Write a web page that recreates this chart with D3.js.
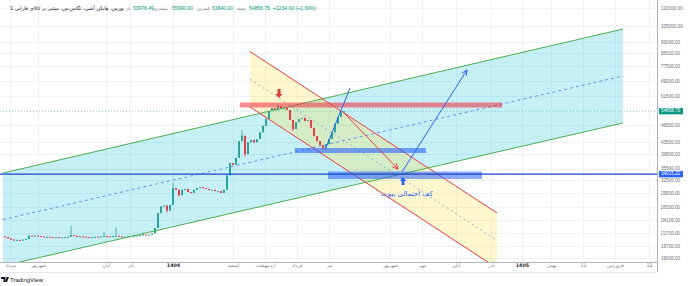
<!DOCTYPE html>
<html>
<head>
<meta charset="utf-8">
<script src="https://cdn.jsdelivr.net/npm/d3@7"></script>
<style>
  body { margin: 0; background: #fff; }
  svg { display: block; font-family: "Liberation Sans", "DejaVu Sans", sans-serif; }
</style>
</head>
<body>
<div id="chart"></div>
<script>
// candle closes, one per bar (bar index = position on the time axis)
const closes = [
  21100, 20900, 20700, 20600, 20650, 20600, 20700, 20800, 21300, 21200,
  21350, 21250, 21200, 21100, 21150, 21100, 21050, 21100, 21000, 21050,
  21100, 21150, 21400, 21300, 21100, 21200, 21150, 21100, 21050, 21100,
  21150, 21100, 21200, 21250, 21200, 21150, 21250, 21300, 21200, 21100,
  21150, 21200, 21250, 21300, 21350, 21400, 21500, 21450, 21500, 21700,
  22600, 25300, 26600, 26800, 25800, 26900, 30600, 30200, 29000, 30200,
  30400, 29700, 29500, 30200, 30600, 30800, 30600, 30400, 30200, 30200,
  29900, 29900, 29500, 30200, 33700, 37000, 36500, 38500, 43700, 45500,
  39600, 43300, 44100, 43300, 44400, 46700, 49100, 51700, 54900, 56200,
  55300, 57000, 55700, 56200, 55300, 51300, 47900, 50500, 51700, 52100,
  50900, 51300, 48300, 45400, 43700, 42400, 41500, 42700, 44400, 46700,
  49800, 52500, 54300, 54858.75
];
const firstOpen = 21200;
// [bar, high] and [bar, low] for the longer wicks
const wickHighs = [[8, 21500], [22, 23000], [33, 21900], [37, 22700], [46, 21800], [56, 31900], [79, 47600], [91, 57900]];
const wickLows = [[54, 25400], [58, 28700], [80, 38800], [96, 47200], [106, 40900]];

const priceTicks = [120000, 105000, 93000, 85000, 77500, 69000, 61500, 49500, 43500, 39500, 35500, 32500, 29500, 26500, 24100, 21700, 19700, 18000];
const timeTicks = [1.7, 11, 33.7, 41.7, 56, 76, 86.7, 97.3, 108, 128.3, 139, 150.3, 162, 172.3, 182, 192.7, 203.3, 214.7];
const timeLabels = ['مرداد', 'شهریور', 'آبان', 'آذر', '1404', 'اسفند', 'اردیبهشت', 'خرداد', 'تیر', 'شهریور', 'مهر', 'آبان', 'آذر', '1405', 'بهمن', '11', 'فروردین', '12'];
const yearLabels = ['1404', '1405'];

// drawings, as [bar, price]
const upChannelTop = [[-0.67, 34300], [206, 102300]];
const upChannelBottom = [[-0.67, 16950], [206, 50150]];
const upChannelMid = [[-0.67, 24100], [206, 71650]];
const downChannelTop = [[81.67, 86250], [164, 25330]];
const downChannelBottom = [[81.67, 56620], [164, 16680]];
const downChannelMid = [[81.67, 69880], [164, 20555]];
const resistanceBox = [[78.3, 58580], [165.7, 56400]];
const supportBoxSmall = [[96.67, 41470], [140.33, 39930]];
const supportBoxLarge = [[107.67, 34700], [159, 32780]];
const pivotPrice = 34015.22;
const lastPrice = 54858.75;
const riseLine = [[106.67, 40900], [115, 65400]];
const targetArrow = [[132.33, 34570], [154, 74970]];
const dropArrow = [[113, 54100], [131, 35360]];
const topMark = [91.33, 60600];
const bottomMark = [132.67, 33290];
const noteLabel = {bar: 134, price: 29260, text: 'کف احتمالی پیوت'};

const headerTitle = 'بورس، هایکن آشی، تگاس.س، مبتنی بر کالای فارابی 1';
const headerStats = [
  {label: 'باز', value: '53978.49', lx: 126, vx: 133},
  {label: 'بیشترین', value: '55990.00', lx: 153, vx: 172},
  {label: 'کمترین', value: '53840.00', lx: 197, vx: 212},
  {label: 'بسته', value: '54858.75', lx: 237, vx: 249}
];
const headerChange = '+1234.00 (+2.30%)';

const W = 690, H = 286;
const plotRight = 657, plotBottom = 262;
const up = '#089981', down = '#f23645';

const x = d3.scaleLinear().domain([-5 / 3, 652 / 3]).range([0, plotRight]);
const y = d3.scaleLog().domain([18000, 120000]).range([258, 8]);

const svg = d3.select('#chart').append('svg')
  .attr('width', W)
  .attr('height', H);

svg.append('defs').append('clipPath').attr('id', 'plot-clip')
  .append('rect').attr('x', 0).attr('y', 0).attr('width', plotRight).attr('height', plotBottom);

// grid
const grid = svg.append('g').attr('stroke', '#eef1f6').attr('stroke-width', 1);
grid.selectAll('.hg').data(priceTicks).join('line')
  .attr('x1', 0).attr('x2', plotRight)
  .attr('y1', d => Math.round(y(d)) + 0.5).attr('y2', d => Math.round(y(d)) + 0.5);
grid.selectAll('.vg').data(timeTicks).join('line')
  .attr('y1', 0).attr('y2', plotBottom)
  .attr('x1', d => Math.round(x(d)) + 0.5).attr('x2', d => Math.round(x(d)) + 0.5);

const plot = svg.append('g').attr('clip-path', 'url(#plot-clip)');
const line = d3.line().x(d => x(d[0])).y(d => y(d[1]));

// channel fills
plot.append('path')
  .attr('d', line([...upChannelTop, ...upChannelBottom.slice().reverse()]) + 'Z')
  .attr('fill', 'rgba(0,188,212,0.22)');
plot.append('path')
  .attr('d', line([...downChannelTop, ...downChannelBottom.slice().reverse()]) + 'Z')
  .attr('fill', 'rgba(255,226,59,0.25)');

// last price line
plot.append('line')
  .attr('x1', 0).attr('x2', plotRight)
  .attr('y1', y(lastPrice)).attr('y2', y(lastPrice))
  .attr('stroke', up).attr('stroke-opacity', 0.45).attr('stroke-dasharray', '1,2');

// candles
const candles = closes.map((c, i) => {
  const o = i === 0 ? firstOpen : closes[i - 1];
  let h = Math.max(o, c), l = Math.min(o, c);
  const wh = wickHighs.find(w => w[0] === i);
  const wl = wickLows.find(w => w[0] === i);
  if (wh) h = wh[1];
  if (wl) l = wl[1];
  return {i, o, c, h, l};
});
const cg = plot.append('g');
cg.selectAll('line').data(candles).join('line')
  .attr('x1', d => x(d.i)).attr('x2', d => x(d.i))
  .attr('y1', d => y(d.h)).attr('y2', d => y(d.l))
  .attr('stroke', d => d.c >= d.o ? '#26a69a' : down).attr('stroke-width', 0.8);
cg.selectAll('rect').data(candles).join('rect')
  .attr('x', d => x(d.i) - 1).attr('width', 2)
  .attr('y', d => y(Math.max(d.o, d.c)))
  .attr('height', d => Math.max(1, y(Math.min(d.o, d.c)) - y(Math.max(d.o, d.c))))
  .attr('fill', d => d.c >= d.o ? '#26a69a' : down);

// channel lines
plot.append('path').attr('d', line(upChannelTop)).attr('stroke', '#4caf50').attr('stroke-width', 1).attr('fill', 'none');
plot.append('path').attr('d', line(upChannelBottom)).attr('stroke', '#4caf50').attr('stroke-width', 1).attr('fill', 'none');
plot.append('path').attr('d', line(upChannelMid)).attr('stroke', '#5b87f0').attr('stroke-width', 0.9)
  .attr('stroke-dasharray', '3,3').attr('fill', 'none');
plot.append('path').attr('d', line(downChannelTop)).attr('stroke', down).attr('stroke-width', 1).attr('fill', 'none');
plot.append('path').attr('d', line(downChannelBottom)).attr('stroke', down).attr('stroke-width', 1).attr('fill', 'none');
plot.append('path').attr('d', line(downChannelMid)).attr('stroke', '#8aa0d0').attr('stroke-width', 0.9)
  .attr('stroke-dasharray', '2,3').attr('fill', 'none');

// boxes
function box(b, fill) {
  plot.append('rect')
    .attr('x', x(b[0][0])).attr('width', x(b[1][0]) - x(b[0][0]))
    .attr('y', y(b[0][1])).attr('height', y(b[1][1]) - y(b[0][1]))
    .attr('fill', fill);
}
box(resistanceBox, 'rgba(242,54,69,0.58)');
box(supportBoxSmall, 'rgba(41,98,255,0.6)');
box(supportBoxLarge, 'rgba(41,98,255,0.55)');

// pivot line
plot.append('line')
  .attr('x1', 0).attr('x2', plotRight)
  .attr('y1', y(pivotPrice)).attr('y2', y(pivotPrice))
  .attr('stroke', '#1a45c8').attr('stroke-width', 1.2);

// arrows
function arrow(pts, color, head) {
  plot.append('path').attr('d', line(pts)).attr('stroke', color).attr('stroke-width', 1).attr('fill', 'none');
  if (!head) return;
  const x0 = x(pts[0][0]), y0 = y(pts[0][1]), x1 = x(pts[1][0]), y1 = y(pts[1][1]);
  const a = Math.atan2(y1 - y0, x1 - x0), len = 6;
  const p = s => [x1 - len * Math.cos(a + s), y1 - len * Math.sin(a + s)];
  plot.append('path')
    .attr('d', `M${p(0.45)}L${x1},${y1}L${p(-0.45)}`)
    .attr('stroke', color).attr('stroke-width', 1).attr('fill', 'none');
}
arrow(riseLine, '#2962ff', false);
arrow(targetArrow, '#2962ff', true);
arrow(dropArrow, down, true);

// markers
const tx = x(topMark[0]), ty = y(topMark[1]);
plot.append('path')
  .attr('d', `M${tx},${ty}l-3.5,-4h2v-5h3v5h2z`)
  .attr('fill', '#e5383b');
const bx = x(bottomMark[0]), by = y(bottomMark[1]);
plot.append('path')
  .attr('d', `M${bx},${by}l-3.2,4h1.8v4h2.8v-4h1.8z`)
  .attr('fill', '#2962ff');

plot.append('text')
  .attr('x', x(noteLabel.bar)).attr('y', y(noteLabel.price))
  .attr('text-anchor', 'middle').attr('dominant-baseline', 'middle')
  .attr('font-family', '"DejaVu Sans", sans-serif')
  .attr('font-size', 7).attr('fill', '#2962ff')
  .text(noteLabel.text);

// axes
svg.append('line').attr('x1', plotRight + 0.5).attr('x2', plotRight + 0.5).attr('y1', 0).attr('y2', 272)
  .attr('stroke', '#b2b5be');
svg.append('line').attr('x1', 0).attr('x2', plotRight).attr('y1', plotBottom + 0.5).attr('y2', plotBottom + 0.5)
  .attr('stroke', '#b2b5be');
svg.append('line').attr('x1', 0).attr('x2', plotRight).attr('y1', 272.5).attr('y2', 272.5)
  .attr('stroke', '#e6e8ee');

const yAxis = d3.axisRight(y).tickValues(priceTicks).tickFormat(d3.format('.2f')).tickSize(0).tickPadding(4);
svg.append('g')
  .attr('transform', `translate(${plotRight},0)`)
  .call(yAxis)
  .call(g => g.select('.domain').remove())
  .call(g => g.selectAll('text').attr('font-size', 4.6).attr('fill', '#6a6d78').attr('font-family', '"Liberation Sans", sans-serif'));

const xAxis = d3.axisBottom(x).tickValues(timeTicks).tickFormat((d, i) => timeLabels[i]).tickSize(0).tickPadding(2);
svg.append('g')
  .attr('transform', `translate(0,${plotBottom})`)
  .call(xAxis)
  .call(g => g.select('.domain').remove())
  .call(g => g.selectAll('text')
    .attr('font-size', 4.8)
    .attr('font-family', '"DejaVu Sans", sans-serif')
    .attr('font-weight', (d, i) => yearLabels.includes(timeLabels[i]) ? 'bold' : 'normal')
    .attr('fill', (d, i) => yearLabels.includes(timeLabels[i]) ? '#131722' : '#787b86'));

// price tags
function priceTag(price, color) {
  const py = y(price);
  svg.append('rect').attr('x', 659).attr('y', py - 3.2).attr('width', 24).attr('height', 6.4).attr('fill', color);
  svg.append('text').attr('x', 661).attr('y', py).attr('dominant-baseline', 'middle')
    .attr('font-size', 4.6).attr('fill', '#fff').text(d3.format('.2f')(price));
}
priceTag(lastPrice, up);
priceTag(pivotPrice, '#2962ff');

// header
const head = svg.append('g').attr('font-size', 5).attr('font-family', '"DejaVu Sans", sans-serif');
head.append('text').attr('x', 124).attr('y', 10)
  .attr('direction', 'rtl').attr('text-anchor', 'start')
  .attr('fill', '#131722').text(headerTitle);
headerStats.forEach(s => {
  head.append('text').attr('x', s.lx).attr('y', 10).attr('fill', '#787b86').attr('font-size', 4.4).text(s.label);
  head.append('text').attr('x', s.vx).attr('y', 10).attr('fill', up)
    .attr('font-family', '"Liberation Sans", sans-serif').text(s.value);
});
head.append('text').attr('x', 273).attr('y', 10).attr('fill', up)
  .attr('font-family', '"Liberation Sans", sans-serif').text(headerChange);

// watermark
svg.append('path').attr('d', 'M1,277h4.5v5h-2v-3h-2.5zM6.5,277h2.5l-2,5h-1.5z').attr('fill', '#131722');
svg.append('text').attr('x', 10).attr('y', 282).attr('font-size', 6).attr('fill', '#131722')
  .attr('font-family', '"Liberation Sans", sans-serif').text('TradingView');
</script>
</body>
</html>
